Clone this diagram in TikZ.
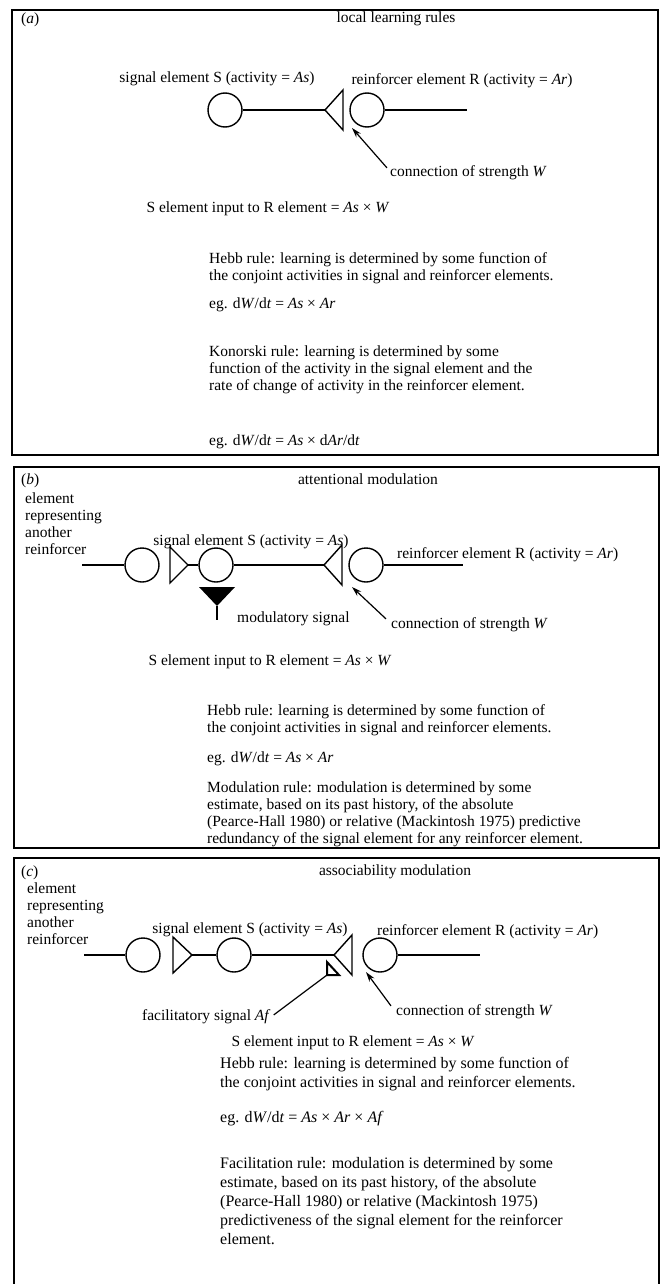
\documentclass[tikz,border=0pt]{standalone}
\usepackage{fontspec}
\setmainfont{Liberation Serif}
\usetikzlibrary{arrows.meta}
\newcommand\mylines[1]{\begin{tabular}[t]{@{}l@{}}#1\end{tabular}}
\begin{document}
\begin{tikzpicture}[x=1pt,y=-1pt,
  every node/.style={font=\fontsize{15.5}{17}\selectfont, inner sep=0pt},
  bigc/.style={font=\fontsize{16}{19}\selectfont},
  circ/.style={draw, line width=1.4pt, circle, minimum size=34pt},
  wire/.style={line width=1.4pt},
  panel/.style={line width=1.5pt},
  txt/.style={anchor=base west},
  ctr/.style={anchor=base},
  pointer/.style={line width=1.2pt, -{Stealth[length=10pt,width=6pt]}},
]
\useasboundingbox (0,0) rectangle (660,1284);

% ---------------- panel (a) ----------------
\draw[panel] (12,10) rectangle (658,455);
\node[txt] (alab) at (21,24) {(\textit{a})};
\node[ctr] (atitle) at (396,23) {local learning rules};
\node[ctr] (aSlab) at (217,83) {signal element S (activity = \textit{As})};
\node[ctr] (aRlab) at (462,85) {reinforcer element R (activity = \textit{Ar})};
\node[circ] (aS) at (225,110) {};
\coordinate (aT) at (325,110);
\draw[wire] (aS) -- (aT);
\draw[wire] (aT) -- (343,90) -- (343,130) -- cycle;
\node[circ] (aR) at (367,110) {};
\coordinate (aRend) at (467,110);
\draw[wire] (aR) -- (aRend);
\node[txt] (aW) at (390,177) {connection of strength \textit{W}};
\coordinate (aWe) at (352,128);
\draw[pointer] ([xshift=-3pt,yshift=-2pt]aW.north west) -- (aWe);
\node[ctr] (aIn) at (268,212) {S element input to R element = \textit{As} × \textit{W}};
\node[txt] (aHebb) at (209,263) {\mylines{Hebb rule: learning is determined by some function of\\the conjoint activities in signal and reinforcer elements.}};
\node[txt] (aEg) at (209,308) {eg. d\textit{W}/d\textit{t} = \textit{As} × \textit{Ar}};
\node[txt] (aKon) at (209,356) {\mylines{Konorski rule: learning is determined by some\\function of the activity in the signal element and the\\rate of change of activity in the reinforcer element.}};
\node[txt] (aEg2) at (209,445) {eg. d\textit{W}/d\textit{t} = \textit{As} × d\textit{Ar}/d\textit{t}};

% ---------------- panel (b) ----------------
\draw[panel] (14,467) rectangle (659,848);
\node[txt] (blab) at (21,484) {(\textit{b})};
\node[ctr] (btitle) at (368,484) {attentional modulation};
\node[txt] (bOth) at (25,503) {\mylines{element\\representing\\another\\reinforcer}};
\node[ctr] (bSlab) at (251,545) {signal element S (activity = \textit{As})};
\node[txt] (bRlab) at (397,558) {reinforcer element R (activity = \textit{Ar})};
\coordinate (bL) at (82,565);
\node[circ] (bE) at (142,565) {};
\draw[wire] (bL) -- (bE);
\coordinate (bT1) at (188,565);
\draw[wire] (170,547) -- (bT1) -- (170,583) -- cycle;
\node[circ] (bS) at (216,565) {};
\draw[wire] (bT1) -- (bS);
\coordinate (bT2) at (324,565);
\draw[wire] (bS) -- (bT2);
\draw[wire] (bT2) -- (342,545) -- (342,585) -- cycle;
\node[circ] (bR) at (366,565) {};
\coordinate (bRend) at (463,565);
\draw[wire] (bR) -- (bRend);
% modulatory signal
\coordinate (bM) at (217,606);
\fill (199,587) -- (235,587) -- (bM) -- cycle;
\node[txt] (bMod) at (237,622) {modulatory signal};
\draw[line width=1.4pt] (bM) -- ([yshift=2pt]bM |- bMod.base);
\node[txt] (bW) at (391,628) {connection of strength \textit{W}};
\coordinate (bWe) at (352,587);
\draw[pointer] ([xshift=-5pt,yshift=-2pt]bW.north west) -- (bWe);
\node[ctr] (bIn) at (270,665) {S element input to R element = \textit{As} × \textit{W}};
\node[txt] (bHebb) at (207,715) {\mylines{Hebb rule: learning is determined by some function of\\the conjoint activities in signal and reinforcer elements.}};
\node[txt] (bEg) at (207,762) {eg. d\textit{W}/d\textit{t} = \textit{As} × \textit{Ar}};
\node[txt] (bModr) at (207,792) {\mylines{Modulation rule: modulation is determined by some\\estimate, based on its past history, of the absolute\\(Pearce-Hall 1980) or relative (Mackintosh 1975) predictive\\redundancy of the signal element for any reinforcer element.}};

% ---------------- panel (c) ----------------
\draw[panel] (14,1290) -- (14,858) -- (659,858) -- (659,1290);
\node[txt] (clab) at (21,876) {(\textit{c})};
\node[ctr] (ctitle) at (395,875) {associability modulation};
\node[txt] (cOth) at (27,893) {\mylines{element\\representing\\another\\reinforcer}};
\node[ctr] (cSlab) at (250,933) {signal element S (activity = \textit{As})};
\node[txt] (cRlab) at (377,935) {reinforcer element R (activity = \textit{Ar})};
\coordinate (cL) at (84,955);
\node[circ] (cE) at (143,955) {};
\draw[wire] (cL) -- (cE);
\coordinate (cT1) at (192,955);
\draw[wire] (173,937) -- (cT1) -- (173,973) -- cycle;
\node[circ] (cS) at (234,955) {};
\draw[wire] (cT1) -- (cS);
\coordinate (cT2) at (334,955);
\draw[wire] (cS) -- (cT2);
\draw[wire] (cT2) -- (352,935) -- (352,975) -- cycle;
\node[circ] (cR) at (380,955) {};
\coordinate (cRend) at (480,955);
\draw[wire] (cR) -- (cRend);
% facilitatory signal
\coordinate (cF) at (327,975);
\draw[line width=2pt, line join=miter] (327,962) -- (cF) -- (339,975) -- cycle;
\node[txt] (cFac) at (142,1020) {facilitatory signal \textit{Af}};
\draw[line width=1.2pt] (cF) -- ([xshift=3pt,yshift=-6pt]cFac.north east);
\node[txt] (cW) at (396,1015) {connection of strength \textit{W}};
\coordinate (cWe) at (366,972);
\draw[pointer] ([xshift=-5pt,yshift=-2pt]cW.north west) -- (cWe);
\node[ctr] (cIn) at (353,1046) {S element input to R element = \textit{As} × \textit{W}};
\node[txt,bigc] (cHebb) at (220,1068) {\mylines{Hebb rule: learning is determined by some function of\\the conjoint activities in signal and reinforcer elements.}};
\node[txt,bigc] (cEg) at (220,1122) {eg. d\textit{W}/d\textit{t} = \textit{As} × \textit{Ar} × \textit{Af}};
\node[txt,bigc] (cFacr) at (220,1168) {\mylines{Facilitation rule: modulation is determined by some\\estimate, based on its past history, of the absolute\\(Pearce-Hall 1980) or relative (Mackintosh 1975)\\predictiveness of the signal element for the reinforcer\\element.}};
\end{tikzpicture}
\end{document}
